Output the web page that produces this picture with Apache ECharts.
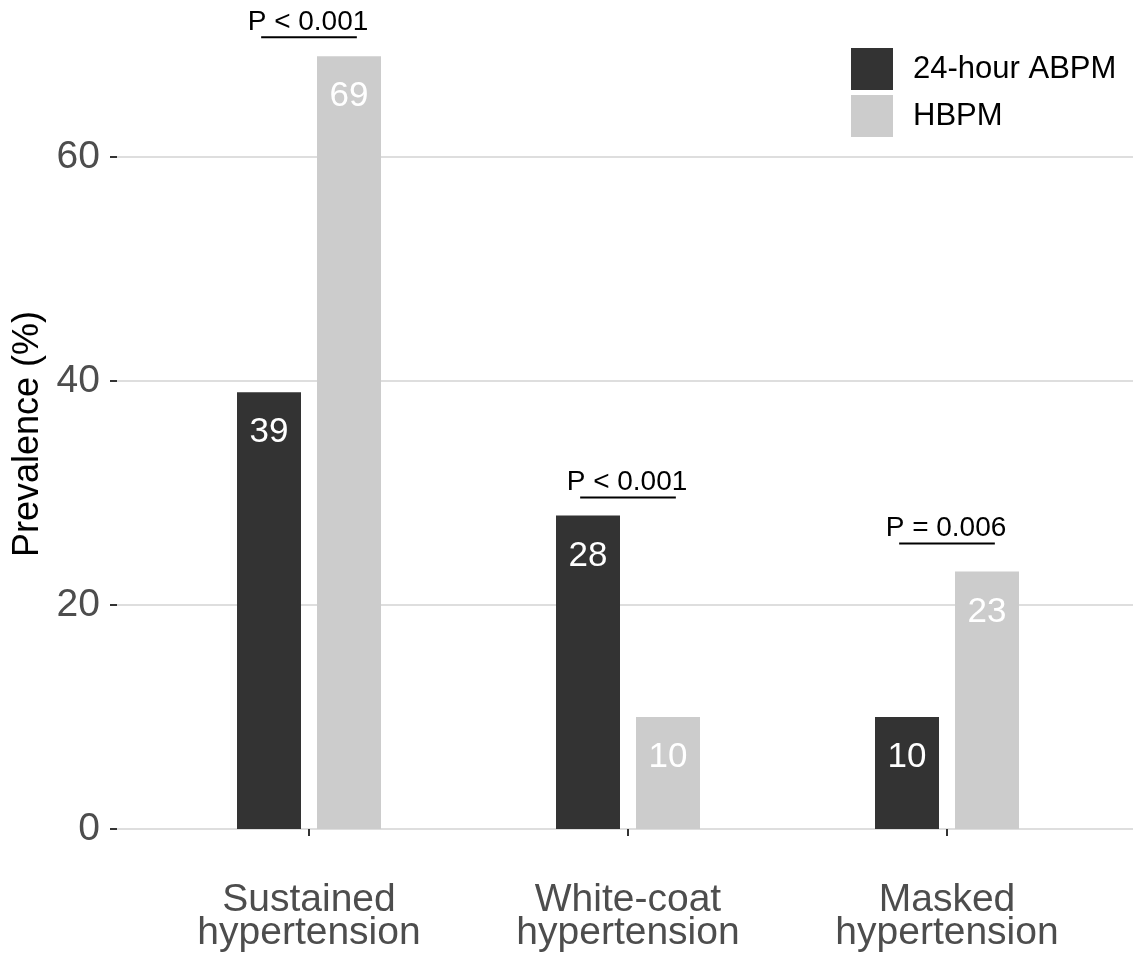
<!DOCTYPE html>
<html>
<head>
<meta charset="utf-8">
<title>Prevalence of hypertension phenotypes</title>
<script src="https://cdn.jsdelivr.net/npm/echarts@6/dist/echarts.min.js"></script>
<style>
  html, body { margin: 0; padding: 0; background: #ffffff; }
  #chart { width: 1133px; height: 966px; }
</style>
</head>
<body>
<div id="chart"></div>
<script>
// Phenotype categories and prevalence (%) by measurement method
const categories = ['Sustained\nhypertension', 'White-coat\nhypertension', 'Masked\nhypertension'];
const abpmValues = [39, 28, 10];
const hbpmValues = [69, 10, 23];
const seriesNames = ['24-hour ABPM', 'HBPM'];

// Significance brackets: height (in % units) and text per category
const bracketHeights = [70.7, 29.6, 25.5];
const pTexts = ['P < 0.001', 'P < 0.001', 'P = 0.006'];

// Y axis scale
const yMin = 0;
const yMax = 80;
const yStep = 20;

const FONT = "'Liberation Sans', Arial, sans-serif";

const chart = echarts.init(document.getElementById('chart'), null, { renderer: 'canvas' });

const option = {
  backgroundColor: '#ffffff',
  animation: false,
  textStyle: { fontFamily: FONT },
  grid: [
    // bars
    { left: 149.5, width: 957, top: -67, bottom: 137, outerBoundsMode: 'none', containLabel: false },
    // full-width gridlines and y axis
    { left: 117, right: 0, top: -67, bottom: 137, outerBoundsMode: 'none', containLabel: false }
  ],
  legend: {
    data: seriesNames,
    orient: 'vertical',
    left: 846,
    top: 43,
    itemWidth: 42,
    itemHeight: 42,
    itemGap: 5,
    icon: 'rect',
    textStyle: { fontFamily: FONT, fontSize: 31, color: '#000000', padding: [0, 0, 0, 15] }
  },
  xAxis: [
    {
      type: 'category',
      gridIndex: 0,
      data: categories,
      offset: 41,
      axisLine: { show: false },
      axisTick: { show: true, alignWithLabel: true, length: 7, lineStyle: { color: '#333333', width: 2 } },
      axisLabel: {
        fontFamily: FONT, fontSize: 39, lineHeight: 33, color: '#4D4D4D', margin: 14
      },
      splitLine: { show: false }
    },
    {
      type: 'value',
      gridIndex: 1,
      min: 0,
      max: 1,
      show: false
    }
  ],
  yAxis: [
    {
      type: 'value',
      gridIndex: 0,
      min: yMin,
      max: yMax,
      interval: yStep,
      show: false
    },
    {
      type: 'value',
      gridIndex: 1,
      min: yMin,
      max: yMax,
      interval: yStep,
      name: 'Prevalence (%)',
      nameLocation: 'middle',
      nameGap: 59,
      // right padding centres the title on the visible panel rather than the full axis extent
      nameTextStyle: { fontFamily: FONT, fontSize: 36, color: '#000000', padding: [0, 106, 0, 0] },
      axisLine: { show: false },
      axisTick: { show: true, length: 7, lineStyle: { color: '#333333', width: 2 } },
      axisLabel: { fontFamily: FONT, fontSize: 39, color: '#4D4D4D', margin: 17 },
      splitLine: { show: true, lineStyle: { color: '#DEDEDE', width: 2 } }
    }
  ],
  series: [
    {
      name: seriesNames[0],
      type: 'bar',
      xAxisIndex: 0,
      yAxisIndex: 0,
      data: abpmValues,
      barWidth: 64,
      barGap: '25%',
      itemStyle: { color: '#333333' },
      label: {
        show: true, position: 'insideTop', distance: 23,
        fontFamily: FONT, fontSize: 35, lineHeight: 35, color: '#ffffff'
      }
    },
    {
      name: seriesNames[1],
      type: 'bar',
      xAxisIndex: 0,
      yAxisIndex: 0,
      data: hbpmValues,
      barWidth: 64,
      barGap: '25%',
      itemStyle: { color: '#CCCCCC' },
      label: {
        show: true, position: 'insideTop', distance: 23,
        fontFamily: FONT, fontSize: 35, lineHeight: 35, color: '#ffffff'
      }
    },
    {
      // significance bracket with p-value text above each pair of bars
      type: 'custom',
      xAxisIndex: 0,
      yAxisIndex: 0,
      silent: true,
      clip: false,
      data: bracketHeights.map((h, i) => [i, h]),
      renderItem: function (params, api) {
        const c = api.coord([api.value(0), api.value(1)]);
        const band = api.size([1, 0])[0];
        const half = band * 0.15;
        return {
          type: 'group',
          children: [
            {
              type: 'line',
              shape: { x1: c[0] - half, y1: c[1], x2: c[0] + half, y2: c[1] },
              style: { stroke: '#000000', lineWidth: 2 }
            },
            {
              type: 'text',
              x: c[0] - 1,
              y: c[1] - 1,
              style: {
                text: pTexts[params.dataIndex],
                fill: '#000000',
                fontFamily: FONT,
                fontSize: 28,
                align: 'center',
                verticalAlign: 'bottom'
              }
            }
          ]
        };
      }
    }
  ]
};

chart.setOption(option);
</script>
</body>
</html>
